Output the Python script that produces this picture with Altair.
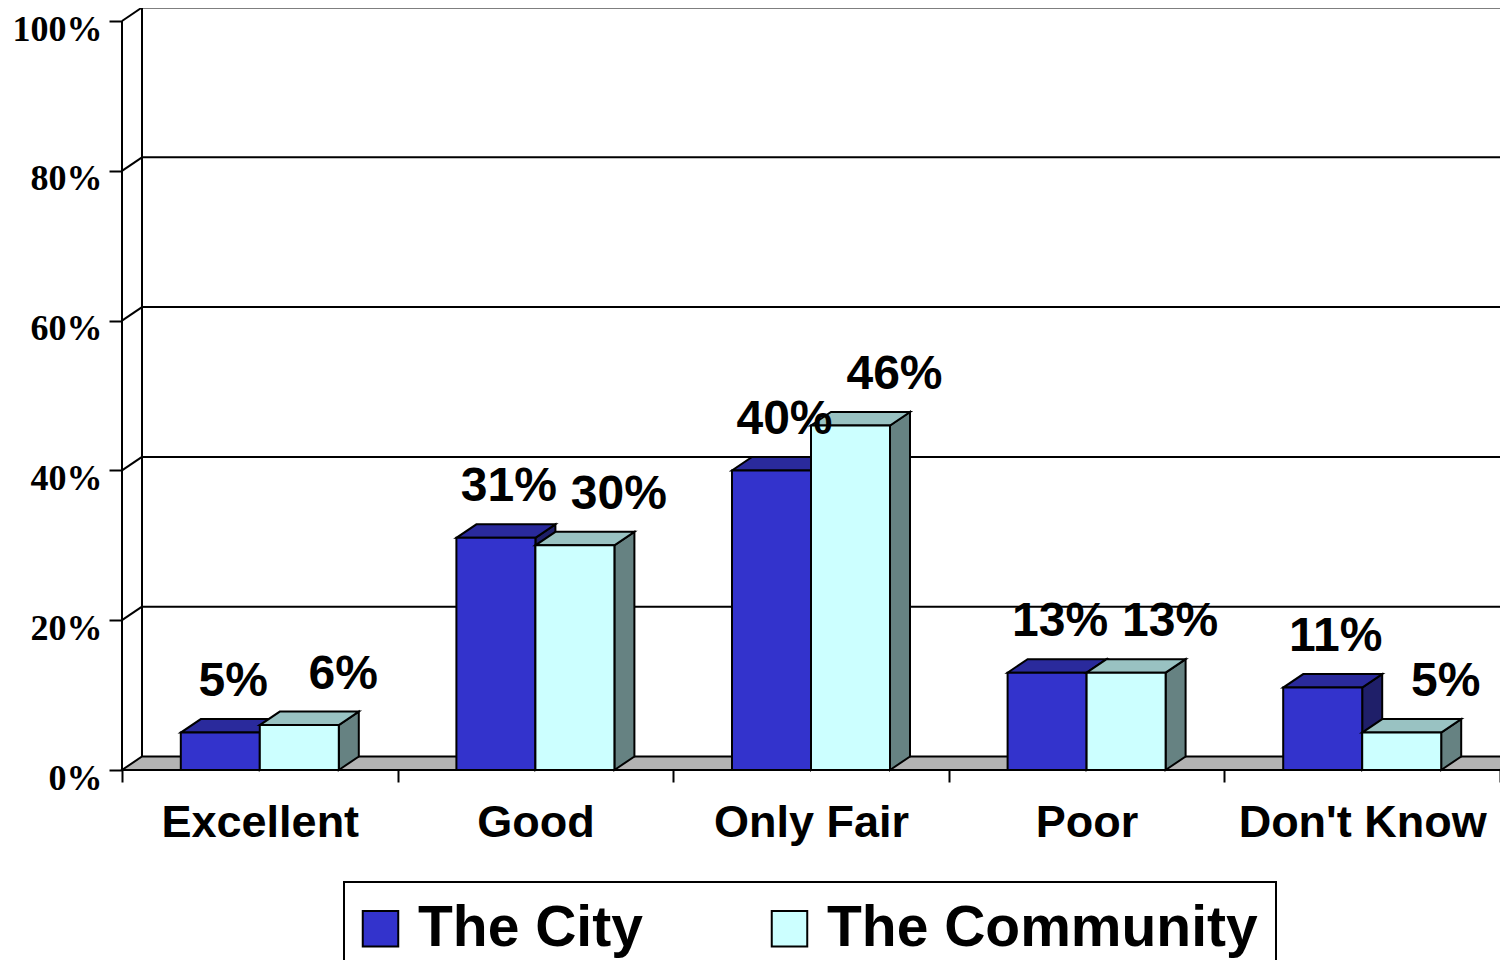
import json
import altair as alt
import pandas as pd

# ---------------- data ----------------
categories = ["Excellent", "Good", "Only Fair", "Poor", "Don't Know"]
series_names = ["The City", "The Community"]
city_values = [5, 31, 40, 13, 11]
community_values = [6, 30, 46, 13, 5]
y_tick_values = [0, 20, 40, 60, 80, 100]

# ---------------- style ----------------
front_colors = ["#3333CC", "#CCFFFF"]
top_colors = ["#2A2A9C", "#99C2C2"]
side_colors = ["#1F1F69", "#668282"]
floor_color = "#B3B3B3"

PX_X = 275.6          # pixels per category band
PX_Y = 749.0          # pixels per 100 %
N = len(categories)
W = int(round(PX_X * N))   # 1378
PAD_TOP = 8
H = 770 - 8 - PAD_TOP
BAR_W = 79 / PX_X
GAP = (1 - 2 * BAR_W) / 2
DX = 20 / PX_X        # 3-D depth offset (x)
DY = 13.5 / PX_Y      # 3-D depth offset (y)
LABEL_SHIFT = [13 / PX_X, 44 / PX_X]

x_scale = alt.Scale(domain=[0, N], nice=False, zero=False)
y_scale = alt.Scale(domain=[0, H / PX_Y], nice=False, zero=False)

label_expr = json.dumps(categories + [""]) + "[round(datum.value)]"
x_axis = alt.Axis(values=list(range(N + 1)), labelExpr=label_expr, title=None,
                  domain=False, grid=False, tickSize=12, tickWidth=2, tickColor="black",
                  labelOffset=PX_X / 2, labelFlush=False, labelOverlap=False, labelLimit=600,
                  labelFont="Liberation Sans", labelFontWeight="bold", labelFontSize=45,
                  labelColor="black", labelBaseline="alphabetic", labelPadding=54,
                  labelAlign="center")
y_axis = alt.Axis(values=[v / 100 for v in y_tick_values], format=".0%", title=None,
                  domain=False, grid=False, tickSize=13, tickWidth=2, tickColor="black",
                  labelFont="Liberation Serif", labelFontWeight="bold", labelFontSize=36,
                  labelColor="black", labelPadding=7, labelLimit=300,
                  labelBaseline="alphabetic", labelOffset=19)

# ---------------- build tables ----------------
all_values = [city_values, community_values]
fronts = [[], []]
faces = [[], []]
labels = []
for s, (name, vals) in enumerate(zip(series_names, all_values)):
    for i, (cat, v) in enumerate(zip(categories, vals)):
        x0 = i + GAP + s * BAR_W
        x1 = x0 + BAR_W
        h = v / 100
        fronts[s].append(dict(series=name, x0=x0, x1=x1, y0=0.0, y1=h))
        kt = f"{s}-{i}-top"
        ks = f"{s}-{i}-side"
        faces[s] += [
            dict(key=ks, fill=side_colors[s], x=x1, y=0.0, y2=h),
            dict(key=ks, fill=side_colors[s], x=x1 + DX, y=DY, y2=h + DY),
            dict(key=kt, fill=top_colors[s], x=x0, y=h, y2=h),
            dict(key=kt, fill=top_colors[s], x=x0 + DX, y=h, y2=h + DY),
            dict(key=kt, fill=top_colors[s], x=x1, y=h, y2=h + DY),
            dict(key=kt, fill=top_colors[s], x=x1 + DX, y=h + DY, y2=h + DY),
        ]
        labels.append(dict(lx=(x0 + x1) / 2 + LABEL_SHIFT[s], ly=h + DY, label=f"{v}%"))

floor_df = pd.DataFrame([
    dict(key="floor", x=0.0, y=0.0, y2=0.0),
    dict(key="floor", x=DX, y=0.0, y2=DY),
    dict(key="floor", x=float(N), y=0.0, y2=DY),
    dict(key="floor", x=N + DX, y=DY, y2=DY),
])

lines = []
for t in y_tick_values[1:]:
    v = t / 100
    lines.append(dict(x=DX, x2=N + 0.2, y=v + DY, y2=v + DY))   # back-wall gridline
    lines.append(dict(x=0.0, x2=DX, y=v, y2=v + DY))            # side-wall diagonal
lines.append(dict(x=DX, x2=DX, y=DY, y2=1 + DY))                # back wall left edge
lines.append(dict(x=0.0, x2=0.0, y=0.0, y2=1.0))                # front value axis
lines_df = pd.DataFrame(lines)

# ---------------- layers ----------------
floor = alt.Chart(floor_df).mark_area(orient="vertical", fill=floor_color, stroke="black",
                                      strokeWidth=2).encode(
    x=alt.X("x:Q", scale=x_scale, axis=x_axis),
    y=alt.Y("y:Q", scale=y_scale, axis=y_axis, stack=None),
    y2="y2:Q",
    detail="key:N",
)

grid = alt.Chart(lines_df).mark_rule(color="black", strokeWidth=2).encode(
    x=alt.X("x:Q", scale=x_scale, axis=x_axis),
    x2="x2:Q",
    y=alt.Y("y:Q", scale=y_scale, axis=y_axis),
    y2="y2:Q",
)

legend = alt.Legend(orient="none", legendX=222, legendY=874 - PAD_TOP, direction="horizontal",
                    title=None, symbolType="square", symbolSize=1260,
                    symbolStrokeColor="black", symbolStrokeWidth=2, symbolOffset=-10,
                    labelFont="Liberation Sans", labelFontWeight="bold", labelFontSize=57,
                    labelColor="black", labelOffset=9, columnPadding=124, padding=18,
                    strokeColor="black", fillColor="white", labelLimit=0)
color_enc = alt.Color("series:N", scale=alt.Scale(domain=series_names, range=front_colors),
                      legend=legend)


def face_layer(s):
    return alt.Chart(pd.DataFrame(faces[s])).mark_area(
        orient="vertical", stroke="black", strokeWidth=2).encode(
        x=alt.X("x:Q", scale=x_scale, axis=x_axis),
        y=alt.Y("y:Q", scale=y_scale, axis=y_axis, stack=None),
        y2="y2:Q",
        fill=alt.Fill("fill:N", scale=None),
        detail="key:N",
    )


def front_layer(s):
    return alt.Chart(pd.DataFrame(fronts[s])).mark_rect(stroke="black", strokeWidth=2).encode(
        x=alt.X("x0:Q", scale=x_scale, axis=x_axis),
        x2="x1:Q",
        y=alt.Y("y0:Q", scale=y_scale, axis=y_axis),
        y2="y1:Q",
        color=color_enc,
    )


text = alt.Chart(pd.DataFrame(labels)).mark_text(
    font="Liberation Sans", fontWeight="bold", fontSize=48, color="black",
    baseline="alphabetic", align="center", dy=-23).encode(
    x=alt.X("lx:Q", scale=x_scale, axis=x_axis),
    y=alt.Y("ly:Q", scale=y_scale, axis=y_axis),
    text="label:N",
)

chart = alt.layer(
    floor, grid,
    face_layer(0), front_layer(0),
    face_layer(1), front_layer(1),
    text,
).properties(
    width=W, height=H,
    padding={"left": 114, "top": PAD_TOP, "right": 0, "bottom": 190},
    autosize=alt.AutoSizeParams(type="none"),
    background="white",
).configure_view(stroke=None).configure_legend(strokeWidth=2)

chart.save("out.html", embed_options={"renderer": "svg", "actions": False})
